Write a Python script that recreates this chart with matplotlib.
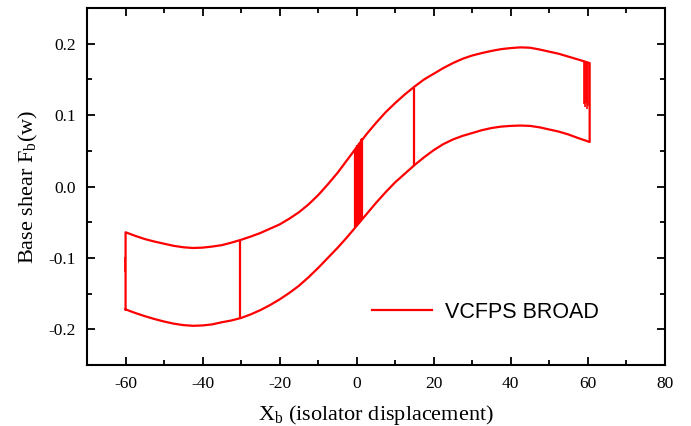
import matplotlib.pyplot as plt
import numpy as np
from matplotlib.ticker import MultipleLocator, FormatStrFormatter

plt.rcParams['font.family'] = 'Liberation Serif'
plt.rcParams['axes.unicode_minus'] = False

x_curve = [-60, -57.5, -55, -52.5, -50, -47.5, -45, -42.5, -40, -37.5, -35,
           -32.5, -30, -27.5, -25, -22.5, -20, -17.5, -15, -12.5, -10, -7.5,
           -5, -2.5, 0, 2.5, 5, 7.5, 10, 12.5, 15, 17.5, 20, 22.5, 25, 27.5,
           30, 32.5, 35, 37.5, 40, 42.5, 45, 47.5, 50, 52.5, 55, 57.5, 60.5]
upper = [-0.064, -0.069, -0.0735, -0.077, -0.080, -0.083, -0.085, -0.086,
         -0.0855, -0.084, -0.082, -0.0785, -0.0745, -0.070, -0.065, -0.059,
         -0.053, -0.045, -0.036, -0.025, -0.012, 0.003, 0.019, 0.037, 0.055,
         0.073, 0.089, 0.104, 0.117, 0.129, 0.140, 0.150, 0.158, 0.166,
         0.173, 0.179, 0.1836, 0.187, 0.190, 0.1925, 0.194, 0.195, 0.1945,
         0.192, 0.189, 0.186, 0.182, 0.178, 0.173]
lower = [-0.172, -0.177, -0.1815, -0.1855, -0.189, -0.192, -0.194, -0.195,
         -0.1945, -0.193, -0.190, -0.1875, -0.184, -0.179, -0.173, -0.166,
         -0.158, -0.149, -0.139, -0.127, -0.114, -0.100, -0.086, -0.071,
         -0.055, -0.039, -0.023, -0.008, 0.006, 0.018, 0.030, 0.041, 0.051,
         0.0595, 0.066, 0.071, 0.075, 0.079, 0.082, 0.084, 0.085, 0.0855,
         0.085, 0.083, 0.080, 0.077, 0.073, 0.068, 0.0625]

# single drops from upper to lower branch
jump_x = [-30.3, 14.8]
jump_top = [-0.076, 0.138]
jump_bot = [-0.185, 0.029]

# stick-slip chatter near zero displacement
chat0_x = [-0.4, -0.1, 0.2, 0.5, 0.8, 1.1, 1.4]
chat0_top = [0.053, 0.056, 0.058, 0.061, 0.063, 0.066, 0.068]
chat0_bot = [-0.057, -0.055, -0.053, -0.051, -0.049, -0.047, -0.046]

# chatter near the ends
chat60_x = [59.0, 59.3, 59.6, 59.9, 60.2, -60.2]
chat60_top = [0.175, 0.175, 0.174, 0.174, 0.173, -0.098]
chat60_bot = [0.115, 0.111, 0.117, 0.109, 0.113, -0.119]

fig = plt.figure(figsize=(6.91, 4.26), dpi=100)
ax = fig.add_axes([0.126, 0.143, 0.836, 0.838])

# closed loop: lower branch out, upper branch back
loop_x = list(x_curve) + list(x_curve[::-1]) + [x_curve[0]]
loop_y = list(lower) + list(upper[::-1]) + [lower[0]]
ax.plot(loop_x, loop_y, color='red', lw=1.6, label='VCFPS BROAD')

ax.vlines(jump_x, jump_bot, jump_top, color='red', lw=1.6)
ax.vlines(chat0_x, chat0_bot, chat0_top, color='red', lw=1.6)
ax.vlines(chat60_x, chat60_bot, chat60_top, color='red', lw=1.2)

ax.set_xlim(-70, 80)
ax.set_ylim(-0.25, 0.25)
ax.xaxis.set_major_locator(MultipleLocator(20))
ax.xaxis.set_minor_locator(MultipleLocator(10))
ax.yaxis.set_major_locator(MultipleLocator(0.1))
ax.yaxis.set_minor_locator(MultipleLocator(0.05))
ax.yaxis.set_major_formatter(FormatStrFormatter('%.1f'))

ax.tick_params(which='both', direction='in', top=True, right=True,
               width=1.3, labelsize=12.5, pad=8)
ax.tick_params(which='major', length=6)
ax.tick_params(which='minor', length=3.5)

for axis in ['top', 'bottom', 'left', 'right']:
    ax.spines[axis].set_linewidth(1.5)

ax.set_xlabel(r'X$_\mathregular{b}$ (isolator displacement)', fontsize=16,
              labelpad=8)
ax.set_ylabel(r'Base shear F$_\mathregular{b}$(w)', fontsize=16, labelpad=6)

leg = ax.legend(loc='center left', bbox_to_anchor=(0.493, 0.148),
                frameon=False, borderpad=0, borderaxespad=0,
                handlelength=2.8, handletextpad=0.58,
                prop={'family': 'Liberation Sans', 'size': 15.5})

fig.savefig('out.png', dpi=100)
